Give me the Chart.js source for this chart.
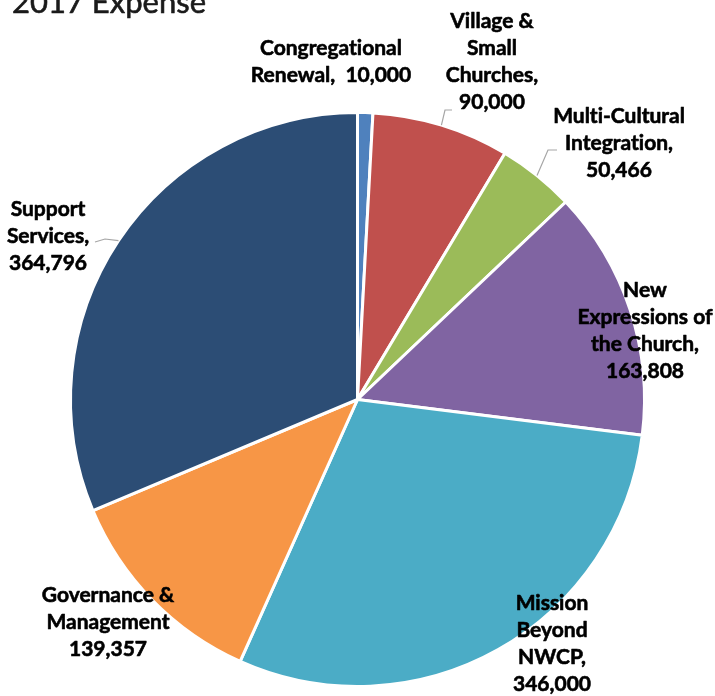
<!DOCTYPE html>
<html>
<head>
<meta charset="utf-8">
<script src="https://cdn.jsdelivr.net/npm/chart.js@4.4.1/dist/chart.umd.min.js"></script>
<style>
  html, body { margin: 0; padding: 0; background: #fff; }
  #wrap { position: relative; width: 715px; height: 696px; }
</style>
</head>
<body>
<div id="wrap"><canvas id="expense-pie"></canvas></div>
<script>
// ── DATA ────────────────────────────────────────────────────────────────────
const categories = [
  'Congregational Renewal',
  'Village & Small Churches',
  'Multi-Cultural Integration',
  'New Expressions of the Church',
  'Mission Beyond NWCP',
  'Governance & Management',
  'Support Services',
];
const expense2017 = [10000, 90000, 50466, 163808, 346000, 139357, 364796];
const sliceColors = ['#4F81BD', '#C0504D', '#9BBB59', '#8064A2', '#4BACC6', '#F79646', '#2C4D75'];

// label text as Excel wrapped it; {v} gets the formatted value
const labelLines = [
  ['Congregational', 'Renewal,  {v}'],
  ['Village &', 'Small', 'Churches,', '{v}'],
  ['Multi-Cultural', 'Integration,', '{v}'],
  ['New', 'Expressions of', 'the Church,', '{v}'],
  ['Mission', 'Beyond', 'NWCP,', '{v}'],
  ['Governance &', 'Management', '{v}'],
  ['Support', 'Services,', '{v}'],
];

// ── LAYOUT (label boxes + leader line elbows, pixels) ───────────────────────
const labelBoxes = [
  { x: 331, y: 55 },
  { x: 492, y: 28 },
  { x: 619, y: 123 },
  { x: 645, y: 297 },
  { x: 552, y: 610 },
  { x: 108, y: 602 },
  { x: 48,  y: 216 },
];
// leader lines: null = none, otherwise elbow points after the arc edge
const leaders = [
  null,
  [[445, 110], [452, 110]],
  [[548, 150], [557, 150]],
  null,
  null,
  null,
  [[105, 239], [95, 242]],
];
const LINE_H = 27;
const LABEL_FONT = "bold 21px Lato, 'Liberation Sans', Arial, sans-serif";

// Lato joins "ti" into a ligature; a zero-width non-joiner keeps them apart
const noLig = s => s.replace(/ti/g, 't\u200Ci');

// ── PLUGINS ─────────────────────────────────────────────────────────────────
const pieLabels = {
  id: 'pieLabels',
  afterDraw(chart) {
    const ctx = chart.ctx;
    const arcs = chart.getDatasetMeta(0).data;
    ctx.save();

    // leader lines from arc edge at mid angle
    ctx.strokeStyle = '#A6A6A6';
    ctx.lineWidth = 1.2;
    arcs.forEach((arc, i) => {
      if (!leaders[i]) return;
      const p = arc.getProps(['x', 'y', 'startAngle', 'endAngle', 'outerRadius'], true);
      const mid = (p.startAngle + p.endAngle) / 2;
      ctx.beginPath();
      ctx.moveTo(p.x + Math.cos(mid) * p.outerRadius, p.y + Math.sin(mid) * p.outerRadius);
      leaders[i].forEach(pt => ctx.lineTo(pt[0], pt[1]));
      ctx.stroke();
    });

    // text (thin stroke to get the heavy look of the original)
    ctx.font = LABEL_FONT;
    ctx.fillStyle = '#000';
    ctx.strokeStyle = '#000';
    ctx.lineWidth = 0.6;
    ctx.lineJoin = 'round';
    ctx.textAlign = 'center';
    ctx.textBaseline = 'alphabetic';
    const vals = chart.data.datasets[0].data;
    labelLines.forEach((lines, i) => {
      const v = vals[i].toLocaleString('en-US');
      lines.forEach((ln, j) => {
        const t = noLig(ln.replace('{v}', v));
        const y = labelBoxes[i].y + j * LINE_H;
        ctx.fillText(t, labelBoxes[i].x, y);
        ctx.strokeText(t, labelBoxes[i].x, y);
      });
    });

    // title (cropped at top edge like the reference)
    ctx.font = "31px Lato, 'Liberation Sans', Arial, sans-serif";
    ctx.fillStyle = '#1a1a1a';
    ctx.strokeStyle = '#1a1a1a';
    ctx.lineWidth = 0.6;
    ctx.textAlign = 'left';
    ctx.fillText('2017 Expense', 12, 13);
    ctx.strokeText('2017 Expense', 12, 13);
    ctx.restore();
  }
};

// ── CHART ───────────────────────────────────────────────────────────────────
new Chart(document.getElementById('expense-pie'), {
  type: 'pie',
  data: {
    labels: categories,
    datasets: [{
      data: expense2017,
      backgroundColor: sliceColors,
      borderColor: '#FFFFFF',
      borderWidth: 3,
      hoverOffset: 0,
    }]
  },
  options: {
    responsive: true,
    maintainAspectRatio: false,
    animation: false,
    layout: { padding: { top: 111, bottom: 8, left: 69, right: 69 } },
    plugins: {
      legend: { display: false },
      title: { display: false },
      tooltip: { enabled: false },
    }
  },
  plugins: [pieLabels]
});
</script>
</body>
</html>
